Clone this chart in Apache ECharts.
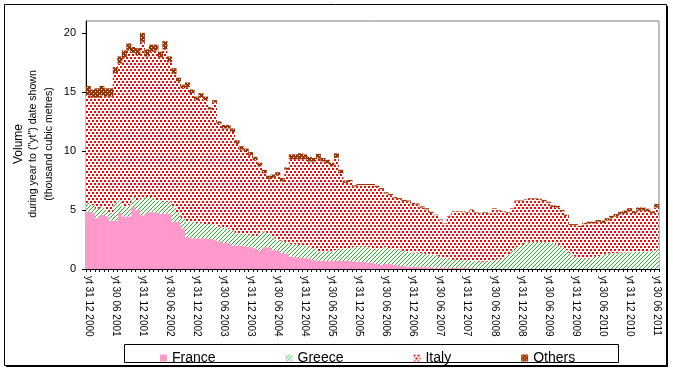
<!DOCTYPE html>
<html><head><meta charset="utf-8">
<script src="https://cdn.jsdelivr.net/npm/echarts@6/dist/echarts.min.js"></script>
<style>html,body{margin:0;padding:0;background:#fff}#c{width:673px;height:371px}</style>
</head><body><div id="c"></div>
<script>
const categories = [
"yt 31 12 2000",
"yt 31 01 2001","yt 28 02 2001","yt 31 03 2001","yt 30 04 2001","yt 31 05 2001","yt 30 06 2001","yt 31 07 2001","yt 31 08 2001","yt 30 09 2001","yt 31 10 2001","yt 30 11 2001","yt 31 12 2001",
"yt 31 01 2002","yt 28 02 2002","yt 31 03 2002","yt 30 04 2002","yt 31 05 2002","yt 30 06 2002","yt 31 07 2002","yt 31 08 2002","yt 30 09 2002","yt 31 10 2002","yt 30 11 2002","yt 31 12 2002",
"yt 31 01 2003","yt 28 02 2003","yt 31 03 2003","yt 30 04 2003","yt 31 05 2003","yt 30 06 2003","yt 31 07 2003","yt 31 08 2003","yt 30 09 2003","yt 31 10 2003","yt 30 11 2003","yt 31 12 2003",
"yt 31 01 2004","yt 29 02 2004","yt 31 03 2004","yt 30 04 2004","yt 31 05 2004","yt 30 06 2004","yt 31 07 2004","yt 31 08 2004","yt 30 09 2004","yt 31 10 2004","yt 30 11 2004","yt 31 12 2004",
"yt 31 01 2005","yt 28 02 2005","yt 31 03 2005","yt 30 04 2005","yt 31 05 2005","yt 30 06 2005","yt 31 07 2005","yt 31 08 2005","yt 30 09 2005","yt 31 10 2005","yt 30 11 2005","yt 31 12 2005",
"yt 31 01 2006","yt 28 02 2006","yt 31 03 2006","yt 30 04 2006","yt 31 05 2006","yt 30 06 2006","yt 31 07 2006","yt 31 08 2006","yt 30 09 2006","yt 31 10 2006","yt 30 11 2006","yt 31 12 2006",
"yt 31 01 2007","yt 28 02 2007","yt 31 03 2007","yt 30 04 2007","yt 31 05 2007","yt 30 06 2007","yt 31 07 2007","yt 31 08 2007","yt 30 09 2007","yt 31 10 2007","yt 30 11 2007","yt 31 12 2007",
"yt 31 01 2008","yt 29 02 2008","yt 31 03 2008","yt 30 04 2008","yt 31 05 2008","yt 30 06 2008","yt 31 07 2008","yt 31 08 2008","yt 30 09 2008","yt 31 10 2008","yt 30 11 2008","yt 31 12 2008",
"yt 31 01 2009","yt 28 02 2009","yt 31 03 2009","yt 30 04 2009","yt 31 05 2009","yt 30 06 2009","yt 31 07 2009","yt 31 08 2009","yt 30 09 2009","yt 31 10 2009","yt 30 11 2009","yt 31 12 2009",
"yt 31 01 2010","yt 28 02 2010","yt 31 03 2010","yt 30 04 2010","yt 31 05 2010","yt 30 06 2010","yt 31 07 2010","yt 31 08 2010","yt 30 09 2010","yt 31 10 2010","yt 30 11 2010","yt 31 12 2010",
"yt 31 01 2011","yt 28 02 2011","yt 31 03 2011","yt 30 04 2011","yt 31 05 2011","yt 30 06 2011"
];

const france = [
4.85,4.75,4.3,4.6,4.5,4.1, 4.1,4.75,4.45,4.45,5.25,5.0,
4.55,4.75,4.85,4.75,4.7,4.7, 4.7,4.0,4.0,3.45,2.7,2.6,
2.6,2.6,2.6,2.55,2.5,2.35, 2.2,2.2,2.0,2.0,2.0,1.9,
1.85,1.75,1.55,1.85,1.85,1.6, 1.55,1.35,1.3,1.05,1.0,0.95,
0.95,0.9,0.75,0.7,0.7,0.7, 0.68,0.68,0.68,0.68,0.68,0.65,
0.62,0.6,0.55,0.55,0.42,0.35, 0.42,0.42,0.35,0.25,0.25,0.2,
0.2,0.2,0.15,0.15,0.15,0.1, 0.1,0.1,0.08,0.08,0.08,0.08,
0.07,0.06,0.05,0,0,0, 0,0,0,0,0,0,
0,0,0,0,0,0, 0,0,0,0,0,0,
0,0,0,0,0,0, 0,0,0,0,0,0,
0,0,0,0,0,0, 0
];

const greece = [
0.75,0.65,0.8,0.7,0.5,0.6, 1.5,1.05,0.85,0.95,0.85,0.8,
1.4,1.35,1.25,1.05,1.1,1.0, 1.0,1.3,0.8,0.85,1.3,1.4,
1.3,1.3,1.2,1.25,1.2,1.25, 1.3,1.2,1.3,1.0,1.0,1.05,
1.05,1.0,1.45,1.35,1.15,1.15, 0.9,1.05,1.0,1.05,1.1,1.1,
1.0,1.0,1.0,0.8,0.8,0.85, 0.82,0.92,0.97,1.07,1.07,1.2,
1.28,1.3,1.3,1.2,1.23,1.4, 1.43,1.33,1.3,1.4,1.3,1.25,
1.2,1.2,1.2,1.15,1.05,1.1, 0.95,0.8,0.82,0.7,0.7,0.67,
0.68,0.64,0.65,0.62,0.62,0.7, 0.76,0.82,0.9,1.2,1.55,1.85,
2.05,2.2,2.3,2.3,2.3,2.3, 2.25,2.2,2.05,1.9,1.6,1.35,
1.05,0.9,0.9,0.9,1.05,1.1, 1.2,1.3,1.35,1.35,1.4,1.4,
1.4,1.45,1.45,1.5,1.5,1.55, 1.6
];

const italy = [
9.1,9.1,9.4,9.4,9.6,9.9, 11.0,11.6,12.6,13.1,12.2,12.3,
13.25,11.9,12.3,12.7,12.1,12.9, 11.8,11.2,11.1,11.0,11.4,10.9,
10.4,10.6,10.5,9.7,10.4,8.7, 8.4,8.5,8.3,7.6,7.1,6.95,
6.7,6.45,5.7,4.9,4.6,4.95, 5.45,5.0,6.1,7.2,7.2,7.25,
7.35,7.2,7.35,7.85,7.6,7.4, 7.2,7.8,6.45,5.55,5.7,5.15,
5.2,5.2,5.25,5.35,5.3,5.0, 4.55,4.5,4.35,4.25,4.2,4.25,
4.1,4.05,3.85,3.75,3.55,3.35, 3.1,2.95,3.55,4.07,4.07,4.1,
4.0,4.3,4.05,4.08,4.13,4.0, 4.34,4.13,3.95,3.55,3.55,3.9,
3.75,3.65,3.65,3.65,3.55,3.45, 3.35,3.05,3.15,3.0,2.9,2.35,
2.65,2.65,2.9,2.95,2.8,2.9, 2.7,2.8,2.95,3.1,3.25,3.3,
3.5,3.25,3.5,3.45,3.4,3.15, 3.6
];

const others = [
0.8,0.7,0.8,0.8,0.7,0.7, 0.5,0.6,0.6,0.6,0.5,0.6,
0.8,0.6,0.6,0.5,0.5,0.7, 0.5,0.5,0.3,0.3,0.4,0.3,
0.3,0.4,0.3,0.2,0.2,0.2, 0.3,0.3,0.3,0.3,0.3,0.3,
0.3,0.3,0.3,0.3,0.3,0.3, 0.3,0.3,0.2,0.4,0.4,0.5,
0.4,0.4,0.3,0.4,0.3,0.3, 0.3,0.4,0.3,0.2,0.1,0.1,
0.1,0.1,0.1,0.1,0.1,0.1, 0.1,0.1,0.1,0.1,0.1,0.1,
0.1,0.1,0.1,0.1,0.1,0.05, 0.05,0.05,0.05,0.05,0.05,0.05,
0.05,0.05,0.05,0.05,0.05,0.05, 0.05,0.05,0.05,0.05,0.05,0.05,
0.05,0.05,0.05,0.05,0.1,0.1, 0.1,0.15,0.15,0.1,0.1,0.1,
0.1,0.1,0.1,0.15,0.15,0.15, 0.2,0.2,0.2,0.2,0.2,0.25,
0.25,0.2,0.25,0.25,0.2,0.2, 0.3
];

const seriesNames = ['France','Greece','Italy','Others'];
const yTitleLines = ['Volume','during year to ("yt") date shown','(thousand cubic metres)'];

function makePattern(w, h, bg, fg, rects) {
  const c = document.createElement('canvas');
  c.width = w; c.height = h;
  const g = c.getContext('2d');
  g.fillStyle = bg; g.fillRect(0, 0, w, h);
  g.fillStyle = fg;
  rects.forEach(r => g.fillRect(r[0], r[1], r[2], r[3]));
  return c;
}
const italyPat = makePattern(4, 6, '#ffffff', '#ff0000', [[0,0,2,2],[2,3,2,2]]);
const greecePat = makePattern(4, 4, '#ffffff', '#22b822', [[3,0,1,1],[2,1,1,1],[1,2,1,1],[0,3,1,1]]);
const othersPat = makePattern(4, 4, '#993300', '#ffffff', [[1,1,1,1],[3,3,1,1]]);

const FONT = 'Liberation Sans, Arial, sans-serif';
const chart = echarts.init(document.getElementById('c'), null, {renderer: 'canvas'});

function bar(name, data, color) {
  return {
    name: name, type: 'bar', stack: 'total', data: data,
    barWidth: 5, barCategoryGap: '0%',
    itemStyle: {color: color},
    emphasis: {disabled: true},
    animation: false
  };
}

chart.setOption({
  animation: false,
  backgroundColor: '#ffffff',
  textStyle: {fontFamily: FONT},
  grid: {left: 86, right: 14, top: 21, bottom: 102, show: true, borderColor: '#808080', borderWidth: 1, containLabel: false},
  xAxis: {
    type: 'category', data: categories, boundaryGap: true,
    axisLine: {lineStyle: {color: '#000', width: 1}},
    axisTick: {show: true, interval: 0, length: 3, lineStyle: {color: '#000'}},
    axisLabel: {interval: 5, rotate: -90, fontSize: 10, margin: 7, color: '#000', fontFamily: FONT}
  },
  yAxis: {
    type: 'value', min: 0, max: 21, interval: 5,
    axisLine: {show: true, lineStyle: {color: '#000', width: 1}},
    axisTick: {show: true, length: 4, lineStyle: {color: '#000'}},
    splitLine: {show: false},
    axisLabel: {showMaxLabel: false, fontSize: 11, margin: 10, color: '#000', fontFamily: FONT}
  },
  legend: {
    data: seriesNames, left: 155, top: 346, icon: 'rect',
    itemWidth: 7, itemHeight: 7, itemGap: 70,
    textStyle: {fontSize: 14, color: '#000', fontFamily: FONT},
    selectedMode: false
  },
  series: [
    bar(seriesNames[0], france, '#ff99cc'),
    bar(seriesNames[1], greece, {image: greecePat, repeat: 'repeat'}),
    bar(seriesNames[2], italy, {image: italyPat, repeat: 'repeat'}),
    bar(seriesNames[3], others, {image: othersPat, repeat: 'repeat'})
  ],
  graphic: [
    {type: 'rect', shape: {x: 4.5, y: 4.5, width: 662, height: 361}, style: {fill: 'none', stroke: '#000', lineWidth: 1}, silent: true},
    {type: 'line', shape: {x1: 667.5, y1: 6, x2: 667.5, y2: 367}, style: {stroke: '#000', lineWidth: 1}, silent: true},
    {type: 'line', shape: {x1: 6, y1: 366.5, x2: 668, y2: 366.5}, style: {stroke: '#000', lineWidth: 1}, silent: true},
    {type: 'rect', shape: {x: 124.5, y: 344.5, width: 494, height: 18}, style: {fill: 'none', stroke: '#000', lineWidth: 1}, silent: true},
    {type: 'text', x: 19, y: 144, rotation: Math.PI / 2, style: {text: yTitleLines[0], font: '12px ' + FONT, align: 'center', verticalAlign: 'middle', fill: '#000'}, silent: true},
    {type: 'text', x: 33.5, y: 144, rotation: Math.PI / 2, style: {text: yTitleLines[1], font: '10.6px ' + FONT, align: 'center', verticalAlign: 'middle', fill: '#000'}, silent: true},
    {type: 'text', x: 49, y: 144, rotation: Math.PI / 2, style: {text: yTitleLines[2], font: '10.6px ' + FONT, align: 'center', verticalAlign: 'middle', fill: '#000'}, silent: true}
  ]
});
</script>
</body></html>
